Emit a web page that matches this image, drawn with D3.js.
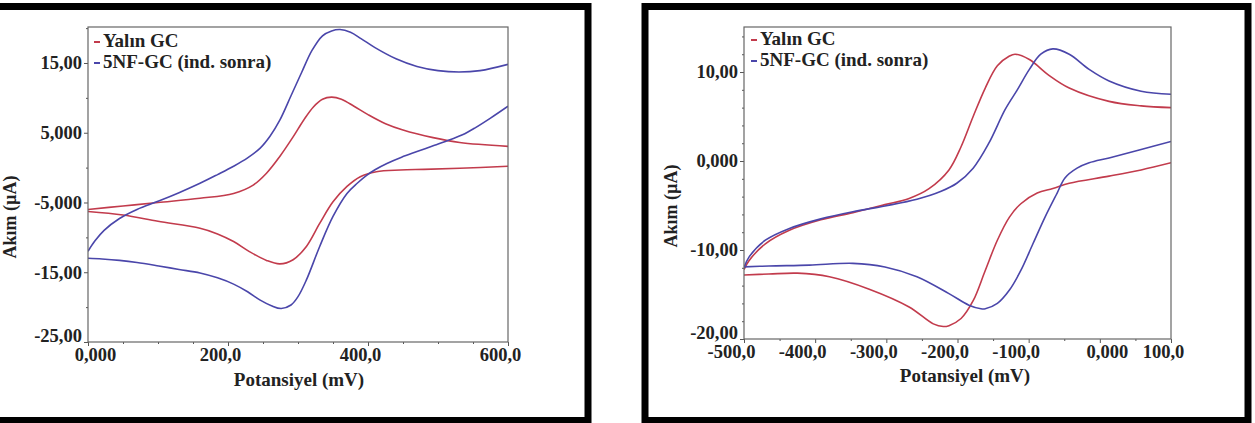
<!DOCTYPE html>
<html>
<head>
<meta charset="utf-8">
<script src="https://cdn.jsdelivr.net/npm/d3@7"></script>
<style>
  body { margin: 0; background: #fff; }
  svg text { font-family: "Liberation Serif", "DejaVu Serif", serif; font-weight: bold; fill: #222; }
</style>
</head>
<body>
<div id="chart"></div>
<script>
// Yalın GC / 5NF-GC, left panel (0 .. 600 mV), [potential mV, current µA]
const leftRedFwd = [[0,-6.0],[50,-5.5],[100,-5.0],[160,-4.4],[208,-3.7],[236,-2.5],[255,-0.8],[274,1.6],[293,4.4],[308,6.8],[322,8.7],[335,9.8],[348,10.1],[362,9.8],[380,8.8],[400,7.6],[425,6.3],[450,5.4],[493,4.3],[531,3.6],[600,3.05]];
const leftRedRev = [[600,0.2],[531,-0.1],[480,-0.25],[446,-0.35],[412,-0.6],[389,-1.3],[370,-2.7],[350,-4.9],[331,-8.0],[312,-11.3],[293,-13.2],[274,-13.8],[255,-13.3],[230,-12.0],[208,-10.6],[185,-9.5],[160,-8.7],[100,-7.7],[50,-6.8],[0,-6.3]];
const leftBlueFwd = [[0,-12.0],[10,-10.5],[23,-9.0],[45,-7.3],[70,-6.0],[101,-4.8],[130,-3.6],[160,-2.25],[185,-1.0],[208,0.2],[228,1.4],[246,2.8],[260,4.5],[274,6.8],[290,10.3],[305,13.6],[320,16.8],[335,18.9],[348,19.6],[360,19.8],[375,19.4],[390,18.5],[410,17.2],[440,15.6],[470,14.5],[500,13.9],[530,13.7],[560,13.9],[600,14.8]];
const leftBlueRev = [[600,8.8],[575,7.1],[553,5.7],[535,4.7],[517,4.0],[495,3.2],[470,2.3],[448,1.5],[427,0.6],[410,-0.3],[398,-1.1],[385,-2.2],[370,-3.7],[350,-7.0],[331,-11.3],[312,-16.1],[300,-18.5],[290,-19.7],[276,-20.2],[262,-19.8],[246,-19.0],[228,-17.8],[208,-16.7],[185,-15.8],[160,-15.1],[130,-14.6],[101,-14.1],[70,-13.6],[45,-13.3],[20,-13.1],[0,-13.0]];

// right panel (-500 .. 100 mV)
const rightRedFwd = [[-500,-12.2],[-493,-11.2],[-470,-9.3],[-437,-7.8],[-392,-6.6],[-347,-5.8],[-302,-4.9],[-268,-4.2],[-240,-3.1],[-212,-1.0],[-195,1.6],[-178,5.0],[-161,8.2],[-144,10.7],[-127,11.8],[-119,12.0],[-99,11.4],[-71,9.6],[-43,8.2],[13,6.7],[58,6.2],[100,6.0]];
const rightRedRev = [[100,-0.2],[58,-1.0],[13,-1.7],[-43,-2.5],[-66,-3.1],[-88,-3.6],[-111,-4.8],[-127,-6.3],[-144,-8.9],[-161,-12.3],[-178,-15.7],[-195,-17.7],[-212,-18.5],[-220,-18.6],[-234,-18.3],[-268,-16.4],[-324,-14.4],[-380,-13.0],[-425,-12.6],[-465,-12.7],[-500,-12.8]];
const rightBlueFwd = [[-500,-12.0],[-493,-10.8],[-470,-8.9],[-437,-7.6],[-392,-6.5],[-347,-5.7],[-302,-5.05],[-257,-4.3],[-223,-3.4],[-201,-2.5],[-178,-0.8],[-156,2.0],[-133,5.8],[-116,8.0],[-99,10.3],[-83,12.0],[-66,12.6],[-43,12.0],[-15,10.3],[13,9.0],[58,7.85],[100,7.5]];
const rightBlueRev = [[100,2.2],[58,1.3],[13,0.35],[-15,-0.2],[-32,-0.8],[-49,-1.9],[-60,-3.6],[-77,-6.3],[-94,-9.3],[-111,-12.3],[-127,-14.5],[-144,-16.0],[-161,-16.6],[-167,-16.6],[-184,-16.2],[-212,-14.9],[-257,-13.0],[-302,-11.9],[-347,-11.5],[-408,-11.7],[-465,-11.8],[-500,-11.9]];

// ticks and labels
const leftXTicks = [0, 200, 400, 600];
const leftXLabels = ["0,000", "200,0", "400,0", "600,0"];
const leftXMinor = [50, 100, 150, 250, 300, 350, 450, 500, 550];
const leftYTicks = [-25, -15, -5, 5, 15];
const leftYLabels = ["-25,00", "-15,00", "-5,000", "5,000", "15,00"];
const leftYMinor = [-20, -10, 0, 10, 20];

const rightXTicks = [-500, -400, -300, -200, -100, 0, 100];
const rightXLabels = ["-500,0", "-400,0", "-300,0", "-200,0", "-100,0", "0,000", "100,0"];
const rightXMinor = [-450, -350, -250, -150, -50, 50];
const rightYTicks = [-20, -10, 0, 10];
const rightYLabels = ["-20,00", "-10,00", "0,000", "10,00"];
const rightYMinor = [-18, -16, -14, -12, -8, -6, -4, -2, 2, 4, 6, 8, 12, 14];

const seriesNames = ["Yalın GC", "5NF-GC (ind. sonra)"];
const seriesColors = ["#c23b4c", "#4a46aa"];

const width = 1255, height = 423;

const svg = d3.select("#chart")
  .append("svg")
  .attr("width", width)
  .attr("height", height);

svg.append("rect").attr("width", width).attr("height", height).attr("fill", "#fff");

const panels = [
  {
    frame: [-10, 6.5, 598, 414],
    box: [88, 27, 508, 342],
    xDomain: [0, 600], yDomain: [-25, 20.16],
    xTicks: leftXTicks, xLabels: leftXLabels, xMinor: leftXMinor,
    yTicks: leftYTicks, yLabels: leftYLabels, yMinor: leftYMinor,
    curves: [[leftRedFwd, leftRedRev], [leftBlueFwd, leftBlueRev]],
    xTitle: [299, 386], yTitle: [16, 217], legend: [94, 47]
  },
  {
    frame: [645, 6.5, 603, 414],
    box: [744, 27, 1171, 339],
    xDomain: [-500, 100], yDomain: [-20, 15.06],
    xTicks: rightXTicks, xLabels: rightXLabels, xMinor: rightXMinor,
    yTicks: rightYTicks, yLabels: rightYLabels, yMinor: rightYMinor,
    curves: [[rightRedFwd, rightRedRev], [rightBlueFwd, rightBlueRev]],
    xTitle: [965, 382], yTitle: [677, 206], legend: [751, 45]
  }
];

panels.forEach((p, pi) => {
  const [x0, y0, x1, y1] = p.box;
  const x = d3.scaleLinear().domain(p.xDomain).range([x0, x1]);
  const y = d3.scaleLinear().domain(p.yDomain).range([y1, y0]);

  // thick black frame
  svg.append("rect")
    .attr("x", p.frame[0]).attr("y", p.frame[1])
    .attr("width", p.frame[2]).attr("height", p.frame[3])
    .attr("fill", "none").attr("stroke", "#000").attr("stroke-width", 7);

  svg.append("clipPath").attr("id", "clip" + pi)
    .append("rect").attr("x", x0).attr("y", y0).attr("width", x1 - x0).attr("height", y1 - y0);

  const line = d3.line()
    .x(d => x(d[0]))
    .y(d => y(d[1]))
    .curve(d3.curveCatmullRom.alpha(0.5));

  p.curves.forEach((branches, si) => {
    svg.append("g")
      .attr("clip-path", `url(#clip${pi})`)
      .selectAll("path")
      .data(branches)
      .join("path")
      .attr("d", line)
      .attr("fill", "none")
      .attr("stroke", seriesColors[si])
      .attr("stroke-width", 1.6);
  });

  // minor ticks
  svg.append("g")
    .attr("transform", `translate(0,${y1})`)
    .call(d3.axisBottom(x).tickValues(p.xMinor).tickSize(2).tickFormat(""))
    .call(g => g.select(".domain").remove());
  svg.append("g")
    .attr("transform", `translate(${x0},0)`)
    .call(d3.axisLeft(y).tickValues(p.yMinor.filter(v => v <= p.yDomain[1])).tickSize(2).tickFormat(""))
    .call(g => g.select(".domain").remove());

  // major ticks
  svg.append("g")
    .attr("transform", `translate(0,${y1})`)
    .call(d3.axisBottom(x).tickValues(p.xTicks).tickSize(4).tickPadding(2)
      .tickFormat((d, i) => p.xLabels[i]))
    .call(g => g.select(".domain").remove())
    .call(g => g.selectAll("text")
      .attr("font-size", 18.5)
      .attr("dx", d => d === 0 ? 7 : d < 0 ? -13 : -8));
  svg.append("g")
    .attr("transform", `translate(${x0},0)`)
    .call(d3.axisLeft(y).tickValues(p.yTicks).tickSize(4).tickPadding(2)
      .tickFormat((d, i) => p.yLabels[i]))
    .call(g => g.select(".domain").remove())
    .call(g => g.selectAll("text")
      .attr("font-size", 18.5)
      .attr("transform", d => d === p.yDomain[0] ? "translate(0,-6)" : null));

  svg.selectAll(".tick line").attr("stroke", "#555");

  // plot box
  svg.append("rect")
    .attr("x", x0).attr("y", y0)
    .attr("width", x1 - x0).attr("height", y1 - y0)
    .attr("fill", "none").attr("stroke", "#666").attr("stroke-width", 1.2);

  // axis titles
  svg.append("text")
    .attr("x", p.xTitle[0]).attr("y", p.xTitle[1])
    .attr("text-anchor", "middle")
    .attr("font-size", 19)
    .text("Potansiyel (mV)");
  svg.append("text")
    .attr("transform", `translate(${p.yTitle[0]},${p.yTitle[1]}) rotate(-90)`)
    .attr("text-anchor", "middle")
    .attr("font-size", 18)
    .text("Akım (µA)");

  // legend
  const lg = svg.append("g").attr("transform", `translate(${p.legend[0]},${p.legend[1]})`);
  seriesNames.forEach((name, i) => {
    lg.append("line")
      .attr("x1", 0).attr("x2", 6)
      .attr("y1", i * 21 - 5).attr("y2", i * 21 - 5)
      .attr("stroke", seriesColors[i]).attr("stroke-width", 2);
    lg.append("text")
      .attr("x", 9).attr("y", i * 21)
      .attr("font-size", 19)
      .text(name);
  });
});
</script>
</body>
</html>
